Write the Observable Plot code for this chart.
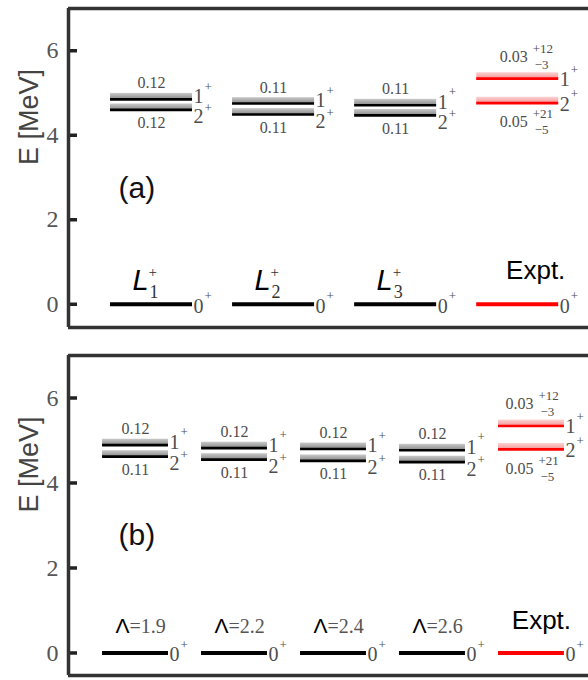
<!DOCTYPE html>
<html><head><meta charset="utf-8">
<script src="https://cdn.jsdelivr.net/npm/d3@7"></script>
<script src="https://cdn.jsdelivr.net/npm/@observablehq/plot@0.6"></script>
<style>
body{margin:0;background:#fff}
#chart svg{display:block}
</style>
</head><body>
<svg width="0" height="0" style="position:absolute">
  <defs>
    <linearGradient id="grayBand" x1="0" y1="0" x2="0" y2="1">
      <stop offset="0%" stop-color="#cacaca"/>
      <stop offset="100%" stop-color="#8c8c8c"/>
    </linearGradient>
    <linearGradient id="pinkBand" x1="0" y1="0" x2="0" y2="1">
      <stop offset="0%" stop-color="#fcd2d2"/>
      <stop offset="100%" stop-color="#f39a9a"/>
    </linearGradient>
  </defs>
</svg>
<div id="chart"></div>
<script>
// ---------- Panel (a) data ----------
const aColumns   = ["L1", "L2", "L3", "Expt."];
const aSubscript = ["1", "2", "3"];
const aE1        = [4.85, 4.75, 4.71, 5.34];   // 1+ energies (MeV)
const aE2        = [4.60, 4.49, 4.47, 4.76];   // 2+ energies (MeV)
const aBand1     = [0.14, 0.14, 0.14, 0.14];   // band heights (MeV)
const aBand2     = [0.14, 0.14, 0.14, 0.14];
const aW1        = ["0.12", "0.11", "0.11", "0.03"];
const aW2        = ["0.12", "0.11", "0.11", "0.05"];

// ---------- Panel (b) data ----------
const bColumns   = ["Λ=1.9", "Λ=2.2", "Λ=2.4", "Λ=2.6", "Expt."];
const bLambda    = ["=1.9", "=2.2", "=2.4", "=2.6"];
const bE1        = [4.89, 4.82, 4.80, 4.77, 5.34];
const bE2        = [4.62, 4.55, 4.52, 4.49, 4.79];
const bBand1     = [0.14, 0.14, 0.14, 0.14, 0.14];
const bBand2     = [0.14, 0.14, 0.14, 0.14, 0.14];
const bW1        = ["0.12", "0.12", "0.12", "0.12", "0.03"];
const bW2        = ["0.11", "0.11", "0.11", "0.11", "0.05"];

// ---------- shared ----------
const exptErr1 = ["+12", "−3"];
const exptErr2 = ["+21", "−5"];
const groundE  = 0;
const yTicks   = [0, 2, 4, 6];
const yLabel   = "E [MeV]";

const SERIF = "Liberation Serif, serif";
const SANS  = "Liberation Sans, sans-serif";
const RED = "#ff0000";

function panel(cfg) {
  const {columns, E1, E2, band1, band2, W1, W2, tag, marginTop, marginBottom, yDomain, xDomain, hw, colLabelMarks} = cfg;
  const cols = columns.map((c, i) => ({i, c, expt: c === "Expt.", E1: E1[i], E2: E2[i], b1: band1[i], b2: band2[i], w1: W1[i], w2: W2[i]}));
  const levels = cols.flatMap(d => [
    {i: d.i, expt: d.expt, J: "1", E: d.E1, band: d.b1},
    {i: d.i, expt: d.expt, J: "2", E: d.E2, band: d.b2}
  ]);
  const theory = levels.filter(d => !d.expt);
  const expt = levels.filter(d => d.expt);
  const tCols = cols.filter(d => !d.expt);
  const eCols = cols.filter(d => d.expt);
  const L = d => d.i - hw, R = d => d.i + hw;
  const sg = {fontFamily: SERIF, fill: "#4d4d4d"};
  const plotW = 588 - 68;
  const tickLen = 9 * (xDomain[1] - xDomain[0]) / plotW;

  const marks = [
    // bands
    Plot.rect(theory, {x1: L, x2: R, y1: "E", y2: d => d.E + d.band, fill: "url(#grayBand)"}),
    Plot.rect(expt, {x1: L, x2: R, y1: "E", y2: d => d.E + d.band, fill: "url(#pinkBand)"}),
    // excited levels
    Plot.ruleY(theory, {y: "E", x1: L, x2: R, stroke: "#000", strokeWidth: 2.6}),
    Plot.ruleY(expt, {y: "E", x1: L, x2: R, stroke: RED, strokeWidth: 2.6}),
    // ground states
    Plot.ruleY(tCols, {y: () => groundE, x1: L, x2: R, stroke: "#000", strokeWidth: 4}),
    Plot.ruleY(eCols, {y: () => groundE, x1: L, x2: R, stroke: RED, strokeWidth: 4}),
    // level spin labels
    Plot.text(theory.filter(d => d.J === "1"), {x: R, y: "E", text: "J", textAnchor: "start", dx: 1, dy: -3, fontSize: 20, ...sg}),
    Plot.text(theory.filter(d => d.J === "1"), {x: R, y: "E", text: () => "+", textAnchor: "start", dx: 12, dy: -13, fontSize: 13, ...sg}),
    Plot.text(theory.filter(d => d.J === "2"), {x: R, y: "E", text: "J", textAnchor: "start", dx: 1, dy: 7, fontSize: 20, ...sg}),
    Plot.text(theory.filter(d => d.J === "2"), {x: R, y: "E", text: () => "+", textAnchor: "start", dx: 12, dy: -2, fontSize: 13, ...sg}),
    Plot.text(expt, {x: R, y: "E", text: "J", textAnchor: "start", dx: 1, dy: 1, fontSize: 20, ...sg}),
    Plot.text(expt, {x: R, y: "E", text: () => "+", textAnchor: "start", dx: 12, dy: -9, fontSize: 13, ...sg}),
    Plot.text(cols, {x: R, y: () => groundE, text: () => "0", textAnchor: "start", dx: 1, dy: 2, fontSize: 20, ...sg}),
    Plot.text(cols, {x: R, y: () => groundE, text: () => "+", textAnchor: "start", dx: 12, dy: -8, fontSize: 13, ...sg}),
    // widths (theory)
    Plot.text(tCols, {x: "i", y: "E1", text: "w1", dy: -16, fontSize: 16, letterSpacing: 1, ...sg}),
    Plot.text(tCols, {x: "i", y: "E2", text: "w2", dy: 13, fontSize: 16, letterSpacing: 1, ...sg}),
    // widths (experiment) with asymmetric errors
    Plot.text(eCols, {x: R, y: "E1", text: "w1", dx: -45, dy: -22, fontSize: 16, letterSpacing: 1, ...sg}),
    Plot.text(eCols, {x: R, y: "E1", text: () => exptErr1[0], textAnchor: "start", dx: -26, dy: -30, fontSize: 13, ...sg}),
    Plot.text(eCols, {x: R, y: "E1", text: () => exptErr1[1], textAnchor: "start", dx: -24, dy: -14, fontSize: 13, ...sg}),
    Plot.text(eCols, {x: R, y: "E2", text: "w2", dx: -45, dy: 19, fontSize: 16, letterSpacing: 1, ...sg}),
    Plot.text(eCols, {x: R, y: "E2", text: () => exptErr2[0], textAnchor: "start", dx: -26, dy: 11, fontSize: 13, ...sg}),
    Plot.text(eCols, {x: R, y: "E2", text: () => exptErr2[1], textAnchor: "start", dx: -24, dy: 27, fontSize: 13, ...sg}),
    // column labels
    ...colLabelMarks(tCols, eCols, R),
    // panel tag
    Plot.text([tag], {frameAnchor: "left", textAnchor: "start", dx: 50, dy: 20, fontSize: 30, fontFamily: SANS, fill: "#111"}),
    // y label
    Plot.text([yLabel], {frameAnchor: "left", rotate: -90, dx: -39, dy: -3, fontSize: 27, fontFamily: SANS, fill: "#444"}),
    // y tick labels and inward ticks
    Plot.text(yTicks, {y: d => d, text: d => String(d), frameAnchor: "left", textAnchor: "end", dx: -10, fontSize: 24, fontFamily: SERIF, fill: "#555"}),
    Plot.ruleY(yTicks, {y: d => d, x1: () => xDomain[0], x2: () => xDomain[0] + tickLen, stroke: "#222", strokeWidth: 3.5}),
    // frame (top, bottom, left; right edge lies off the page)
    Plot.ruleY(yDomain, {stroke: "#333", strokeWidth: 3.5}),
    Plot.ruleX([xDomain[0]], {stroke: "#333", strokeWidth: 3.5})
  ];

  return Plot.plot({
    width: 588,
    height: 340,
    marginLeft: 68,
    marginRight: 0,
    marginTop, marginBottom,
    x: {domain: xDomain, axis: null},
    y: {domain: yDomain, axis: null},
    style: {background: "transparent", overflow: "visible"},
    marks
  });
}

const chart = document.getElementById("chart");

chart.append(panel({
  columns: aColumns, E1: aE1, E2: aE2, band1: aBand1, band2: aBand2, W1: aW1, W2: aW2,
  tag: "(a)", marginTop: 8, marginBottom: 13, yDomain: [-0.55, 7.0], xDomain: [-0.68, 3.58], hw: 0.336,
  colLabelMarks: (tCols, eCols, R) => [
    Plot.text(tCols, {x: "i", text: () => "L", frameAnchor: "bottom", dx: -11, dy: -38, fontSize: 29, fontStyle: "italic", fontFamily: SANS, fill: "#000"}),
    Plot.text(tCols, {x: "i", text: () => "+", frameAnchor: "bottom", textAnchor: "start", dx: -3, dy: -51, fontSize: 15, fontFamily: SERIF, fill: "#333"}),
    Plot.text(tCols, {x: "i", text: d => aSubscript[d.i], frameAnchor: "bottom", textAnchor: "start", dx: -2, dy: -30, fontSize: 18, fontFamily: SERIF, fill: "#333"}),
    Plot.text(eCols, {x: R, text: "c", frameAnchor: "bottom", dx: -23, dy: -49, fontSize: 26, fontFamily: SANS, fill: "#000"})
  ]
}));

chart.append(panel({
  columns: bColumns, E1: bE1, E2: bE2, band1: bBand1, band2: bBand2, W1: bW1, W2: bW2,
  tag: "(b)", marginTop: 15, marginBottom: 5, yDomain: [-0.53, 7.0], xDomain: [-0.677, 4.576], hw: 0.333,
  colLabelMarks: (tCols, eCols, R) => [
    Plot.text(tCols, {x: "i", text: () => "Λ", frameAnchor: "bottom", textAnchor: "end", dx: -6, dy: -43, fontSize: 21, fontFamily: SANS, fill: "#000"}),
    Plot.text(tCols, {x: "i", text: d => bLambda[d.i], frameAnchor: "bottom", textAnchor: "start", dx: -6, dy: -43, fontSize: 20, fontFamily: SERIF, fill: "#555"}),
    Plot.text(eCols, {x: R, text: "c", frameAnchor: "bottom", dx: -23, dy: -47, fontSize: 26, fontFamily: SANS, fill: "#000"})
  ]
}));
</script>
</body></html>
